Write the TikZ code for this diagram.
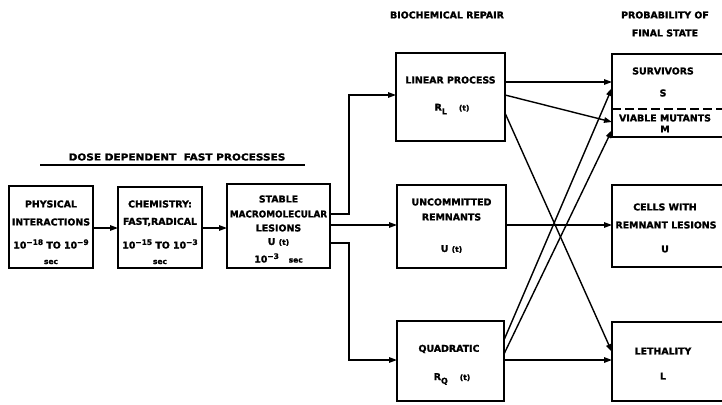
\documentclass[tikz,border=0pt]{standalone}
\usepackage{fontspec}
\setmainfont{DejaVu Sans}[BoldFeatures={FakeBold=1.5}]
\usetikzlibrary{arrows.meta}
\newcommand\myex[1]{\raisebox{0.7ex}{\fontsize{7.5}{7}\selectfont #1}}
\newcommand\mysmall[1]{{\fontsize{7.5}{7}\selectfont #1}}
\newcommand\mysub[1]{\raisebox{-0.7ex}{\fontsize{8}{8}\selectfont #1}}
\newcommand\myarg[1]{{\fontsize{7.5}{8}\selectfont #1}}
\begin{document}
\begin{tikzpicture}[x=1pt,y=-1pt,
  every node/.style={font=\fontsize{9.4}{10}\selectfont\bfseries, inner sep=0pt, outer sep=0pt},
  box/.style={draw, line width=1.6pt},
  arr/.style={line width=1.4pt, -{Triangle[length=8pt,width=5.5pt]}},
  ln/.style={line width=1.4pt}]
\useasboundingbox (0,0) rectangle (722,404);

% boxes
\node[box, minimum width=84pt, minimum height=82pt] (phys) at (51,227) {};
\node[box, minimum width=84pt, minimum height=81pt] (chem) at (160,227.5) {};
\node[box, minimum width=103pt, minimum height=84pt] (stab) at (278.5,226) {};
\node[box, minimum width=109pt, minimum height=88pt] (lin) at (450.5,97) {};
\node[box, minimum width=109pt, minimum height=83pt] (unc) at (451.5,226.5) {};
\node[box, minimum width=107pt, minimum height=80pt] (quad) at (450.5,361) {};
\node[box, minimum width=114pt, minimum height=83pt] (surv) at (669,95.5) {};
\node[box, minimum width=114pt, minimum height=82pt] (cells) at (669,226) {};
\node[box, minimum width=114pt, minimum height=79pt] (leth) at (669,361.5) {};

% headings
\node (h1) at (177,157) {\scalebox{1.12}[1]{DOSE DEPENDENT\ \ FAST PROCESSES}};
\draw[ln] (40,165) -- (305,165);
\node (h2) at (447,15) {BIOCHEMICAL REPAIR};
\node (h3) at (665,15) {PROBABILITY OF};
\node (h4) at (665,33) {FINAL STATE};

% texts
\node (p1) at (51,204) {PHYSICAL};
\node (p2) at (51,222) {INTERACTIONS};
\node (p3) at (51,244) {10\myex{−18} TO 10\myex{−9}};
\node (p4) at (51,262) {\mysmall{sec}};

\node (c1) at (160,204) {CHEMISTRY:};
\node (c2) at (160,222) {FAST,RADICAL};
\node (c3) at (160,244) {10\myex{−15} TO 10\myex{−3}};
\node (c4) at (160,262) {\mysmall{sec}};

\node (s1) at (278.5,199) {STABLE};
\node (s2) at (278.5,214) {\scalebox{0.94}[1]{MACROMOLECULAR}};
\node (s3) at (278.5,228) {LESIONS};
\node (s4) at (278.5,242) {U \myarg{(t)}};
\node (s5) at (278.5,258) {10\myex{−3}\ \ \ \mysmall{sec}};

\node (l1) at (450.5,80) {LINEAR PROCESS};
\node (l2) at (452,109) {R\mysub{L}\hspace{12pt}\myarg{(t)}};

\node (u1) at (451.5,202) {UNCOMMITTED};
\node (u2) at (451.5,217) {REMNANTS};
\node (u3) at (451.5,249) {U \myarg{(t)}};

\node (q1) at (449,349) {QUADRATIC};
\node (q2) at (452,379) {R\mysub{Q}\hspace{12pt}\myarg{(t)}};

\node (v1) at (663,71) {SURVIVORS};
\node (v2) at (663,93) {S};
\node (v3) at (665,118) {VIABLE MUTANTS};
\node (v4) at (665,129) {M};

\node (w1) at (665,207) {CELLS WITH};
\node (w2) at (666,225) {REMNANT LESIONS};
\node (w3) at (665,249) {U};

\node (e1) at (663,351) {LETHALITY};
\node (e2) at (663,376) {L};

% dashed divider
\draw[line width=1.2pt, dash pattern=on 9pt off 4pt] (surv.west |- 0,109) -- (surv.east |- 0,109);

% connectors
\draw[arr] (phys.east |- 0,228) -- (chem.west |- 0,228);
\draw[arr] (chem.east |- 0,228) -- (stab.west |- 0,228);
\draw[arr] (stab.east |- 0,214) -- (349,214) |- (lin.west |- 0,95);
\draw[arr] (stab.east |- 0,225) -- (unc.west |- 0,225);
\draw[arr] (stab.east |- 0,243) -- (349,243) |- (quad.west |- 0,360);
\draw[arr] (lin.east |- 0,82) -- (surv.west |- 0,82);
\draw[arr] (lin.east |- 0,95) -- (surv.west |- 0,122);
\draw[arr] (lin.east |- 0,113) -- (leth.west |- 0,352);
\draw[arr] (unc.east |- 0,225) -- (cells.west |- 0,225);
\draw[arr] (quad.east |- 0,340) -- (surv.west |- 0,88);
\draw[arr] (quad.east |- 0,354) -- (surv.west |- 0,130);
\draw[arr] (quad.east |- 0,360) -- (leth.west |- 0,360);
\end{tikzpicture}
\end{document}
